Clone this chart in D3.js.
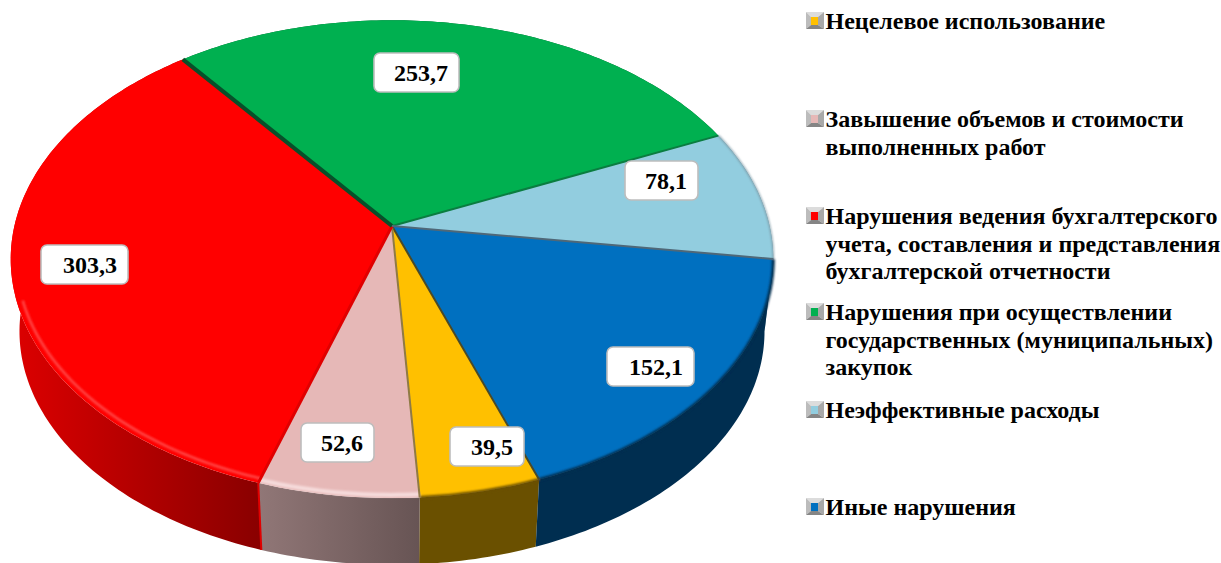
<!DOCTYPE html>
<html>
<head>
<meta charset="utf-8">
<script src="https://cdn.jsdelivr.net/npm/d3@7"></script>
<style>
  html, body { margin: 0; padding: 0; background: #fff; overflow: hidden; }
  svg { display: block; }
  text { font-family: "Liberation Serif", serif; font-weight: bold; fill: #000; }
</style>
</head>
<body>
<svg id="pie" width="1221" height="563"></svg>
<script>
// data, in legend order
const categories = [
  ["Нецелевое использование"],
  ["Завышение объемов и стоимости", "выполненных работ"],
  ["Нарушения ведения бухгалтерского", "учета, составления и представления", "бухгалтерской отчетности"],
  ["Нарушения при осуществлении", "государственных (муниципальных)", "закупок"],
  ["Неэффективные расходы"],
  ["Иные нарушения"]
];
const values = [39.5, 52.6, 303.3, 253.7, 78.1, 152.1];

// styles
const topColors = ["#ffc000", "#e6b8b7", "#ff0000", "#00b050", "#92cddf", "#0070c0"];
const wallColors = ["#4a4a28", "#8f7a45", "#e00000", "#08502a", "#0a7d40", "#4f6878"];
const rimColors = ["#6a5000", "#f6dcdc", "#ff4a4a", "#00b050", "#7c98a4", "#002e50"];
const rimWidths = [3, 4, 2.5, 0, 1.5, 3];
const rimInset = [1, 0.99, 0.985, 1, 1, 1];

// label boxes were dragged by hand in the original, [left, top, width]
const labelBoxes = [[450, 427, 74], [301, 423, 73], [41, 245, 87], [374, 53, 85], [625, 161, 73], [607, 347, 87]];
const legendBaselines = [29, 127, 224, 320, 418, 515];

// perspective of the tilted disc
const cx = 392, cy = 226;
const a = 377.6, b = 234.3, k = 0.1387;
const depth = 73, bottomScale = 0.977;
const firstAngle = 160.2 * Math.PI / 180;

const project = (angle, r = 1) => {
  const X = r * Math.sin(angle);
  const Y = -r * Math.cos(angle);
  const w = 1 - k * Y;
  return [cx + a * X / w, cy + b * Y / w];
};
const projectBottom = angle => {
  const p = project(angle);
  return [cx + (p[0] - cx) * bottomScale, cy + (p[1] - cy) * bottomScale + depth];
};
const arcAngles = d => {
  const n = Math.ceil((d.endAngle - d.startAngle) * 60);
  return d3.range(n + 1).map(i => d.startAngle + (d.endAngle - d.startAngle) * i / n);
};
const arcPoints = (d, fn) => arcAngles(d).map(fn);

const svg = d3.select("#pie");
const line = d3.line();
const slices = d3.pie()
  .sort(null)
  .startAngle(firstAngle)
  .endAngle(firstAngle + 2 * Math.PI)(values);

const defs = svg.append("defs");
defs.append("filter").attr("id", "soft").attr("x", "-5%").attr("y", "-5%").attr("width", "110%").attr("height", "110%")
  .append("feGaussianBlur").attr("stdDeviation", 0.9);

const sideGradient = (id, stops) => {
  const g = defs.append("linearGradient").attr("id", id)
    .attr("gradientUnits", "userSpaceOnUse")
    .attr("x1", stops[0][0]).attr("x2", stops[1][0]).attr("y1", 0).attr("y2", 0);
  stops.forEach((s, i) => g.append("stop").attr("offset", i).attr("stop-color", s[1]));
  return `url(#${id})`;
};
const sideFills = [
  "#6a5000",
  sideGradient("side-pink", [[project(slices[1].endAngle)[0], "#917777"], [project(slices[1].startAngle)[0], "#675454"]]),
  sideGradient("side-red", [[15, "#dc0000"], [project(slices[2].startAngle)[0], "#8a0000"]]),
  "#00602c",
  "#5f7f8c",
  "#002e50"
];

// sides first, the top faces cover whatever faces away
svg.append("g").selectAll("path").data(slices).enter().append("path")
  .attr("d", d => line(arcPoints(d, t => project(t)).concat(arcPoints(d, projectBottom).reverse())) + "Z")
  .attr("fill", (d, i) => sideFills[i]);

// bright seam down the red side
svg.append("path")
  .attr("d", line([project(slices[2].startAngle), projectBottom(slices[2].startAngle)]))
  .attr("stroke", "#e00000").attr("stroke-width", 2).attr("fill", "none");

// top faces
svg.append("g").selectAll("path").data(slices).enter().append("path")
  .attr("d", d => line([[cx, cy]].concat(arcPoints(d, t => project(t)))) + "Z")
  .attr("fill", (d, i) => topColors[i]);

// bevel along the front rim, the red one stops where the side comes out from under the face
svg.append("g").attr("filter", "url(#soft)").selectAll("path").data(slices).enter().append("path")
  .attr("d", (d, i) => {
    const angles = arcAngles(d).filter(t => i !== 2 || -Math.cos(t) > 0.3);
    return line(angles.map(t => project(t, rimInset[i])));
  })
  .attr("fill", "none")
  .attr("stroke", (d, i) => rimColors[i])
  .attr("stroke-width", (d, i) => rimWidths[i]);

// walls between slices
svg.append("g").selectAll("path").data(slices).enter().append("path")
  .attr("d", d => line([[cx, cy], project(d.startAngle)]))
  .attr("fill", "none")
  .attr("stroke", (d, i) => wallColors[i])
  .attr("stroke-width", (d, i) => i === 3 ? 4 : (i === 2 ? 3 : 2));

// value labels
const fmt = v => v.toFixed(1).replace(".", ",");
const labels = svg.append("g").selectAll("g").data(values).enter().append("g")
  .attr("transform", (d, i) => `translate(${labelBoxes[i][0]},${labelBoxes[i][1]})`);
labels.append("rect")
  .attr("width", (d, i) => labelBoxes[i][2])
  .attr("height", 39)
  .attr("rx", 6)
  .attr("fill", "#fff")
  .attr("stroke", "#bdbdbd")
  .attr("stroke-width", 1.6);
labels.append("text")
  .attr("x", (d, i) => labelBoxes[i][2] - 11)
  .attr("y", 28)
  .attr("text-anchor", "end")
  .attr("font-size", 24)
  .text(fmt);

// legend
const legend = svg.append("g").selectAll("g").data(categories).enter().append("g")
  .attr("transform", (d, i) => `translate(806,${legendBaselines[i]})`);
const bevel = [
  ["#dcdcdc", [[0, -17], [18, -17], [12, -12], [5, -12]]],
  ["#bcbcbc", [[0, -17], [5, -12], [5, -4], [0, 0]]],
  ["#a8a8a8", [[18, -17], [18, 0], [12, -4], [12, -12]]],
  ["#858585", [[0, 0], [18, 0], [12, -4], [5, -4]]]
];
bevel.forEach(([fill, pts]) => {
  legend.append("path").attr("d", line(pts) + "Z").attr("fill", fill);
});
legend.append("rect")
  .attr("x", 5).attr("y", -12).attr("width", 7).attr("height", 8)
  .attr("fill", (d, i) => topColors[i]);
legend.selectAll("text").data(d => d).enter().append("text")
  .attr("x", 19.5)
  .attr("y", (d, i) => i * 27.5)
  .attr("font-size", 24)
  .text(d => d);
</script>
</body>
</html>
